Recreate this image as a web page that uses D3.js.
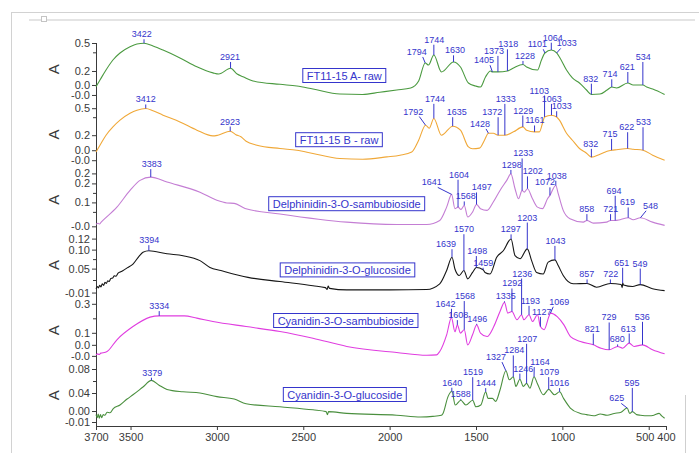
<!DOCTYPE html>
<html>
<head>
<meta charset="utf-8">
<script src="https://cdn.jsdelivr.net/npm/d3@7/dist/d3.min.js"></script>
<style>
  html, body { margin: 0; padding: 0; background: #fff; }
  svg { display: block; font-family: "Liberation Sans", Arial, sans-serif; }
</style>
</head>
<body>
<svg id="chart" width="699" height="453"></svg>
<script>
// ---------------- data ----------------
const seriesNames = [
  "FT11-15 A- raw",
  "FT11-15 B - raw",
  "Delphinidin-3-O-sambubioside",
  "Delphinidin-3-O-glucoside",
  "Cyanidin-3-O-sambubioside",
  "Cyanidin-3-O-glucoside"
];

// wavenumber (cm-1), absorbance
const spectrumA = [[3700,0.032],[3677,0.103],[3642,0.211],[3602,0.318],[3561,0.393],[3503,0.46],[3463,0.489],[3422,0.497],[3370,0.468],[3312,0.425],[3214,0.34],[3116,0.246],[3023,0.18],[2989,0.167],[2921,0.229],[2883,0.167],[2849,0.139],[2791,0.093],[2635,0.057],[2537,0.039],[2444,0.007],[2288,-0.047],[2156,-0.052],[2057,-0.028],[1959,-0.004],[1878,0.018],[1832,0.093],[1794,0.286],[1775,0.264],[1744,0.371],[1700,0.189],[1630,0.296],[1590,0.243],[1544,0.071],[1503,0.039],[1474,0.028],[1445,0.136],[1416,0.2],[1405,0.19],[1373,0.19],[1318,0.2],[1283,0.232],[1228,0.27],[1207,0.243],[1144,0.21],[1121,0.318],[1101,0.393],[1064,0.425],[1033,0.393],[1017,0.35],[976,0.21],[942,0.125],[901,0.071],[860,-0.004],[832,-0.052],[782,-0.047],[741,-0.004],[714,0.028],[686,0.018],[621,0.071],[590,0.05],[534,0.05],[512,0.028],[477,0.007],[408,-0.052]];

const spectrumB = [[3700,0.014],[3677,0.089],[3642,0.2],[3602,0.292],[3561,0.367],[3503,0.444],[3463,0.478],[3412,0.497],[3370,0.472],[3312,0.422],[3214,0.348],[3116,0.256],[3023,0.192],[2994,0.2],[2923,0.244],[2890,0.206],[2861,0.183],[2831,0.133],[2768,0.089],[2635,0.052],[2537,0.033],[2444,-0.003],[2288,-0.059],[2156,-0.067],[2016,-0.041],[1940,-0.022],[1872,0.014],[1832,0.144],[1792,0.311],[1771,0.278],[1744,0.386],[1700,0.2],[1635,0.3],[1590,0.256],[1544,0.07],[1520,0.05],[1480,0.056],[1451,0.144],[1428,0.222],[1400,0.222],[1372,0.2],[1333,0.2],[1283,0.237],[1229,0.292],[1207,0.256],[1161,0.237],[1133,0.237],[1115,0.333],[1103,0.403],[1063,0.422],[1033,0.403],[1017,0.367],[976,0.222],[942,0.144],[901,0.052],[860,0.0],[832,-0.044],[782,-0.011],[741,0.022],[715,0.033],[686,0.039],[622,0.052],[590,0.044],[533,0.033],[477,-0.022],[408,-0.078]];

const spectrumDS = [[3700,-0.016],[3688,-0.01],[3680,-0.014],[3670,-0.004],[3660,0.005],[3579,0.075],[3503,0.163],[3445,0.216],[3383,0.233],[3289,0.207],[3098,0.154],[3000,0.111],[2942,0.097],[2900,0.095],[2837,0.068],[2635,0.039],[2248,-0.004],[1959,-0.016],[1785,-0.016],[1710,0.005],[1670,0.075],[1641,0.142],[1622,0.067],[1604,0.075],[1587,0.063],[1568,0.084],[1548,0.023],[1520,0.049],[1497,0.089],[1474,0.067],[1436,0.058],[1400,0.102],[1361,0.163],[1322,0.216],[1298,0.25],[1274,0.172],[1254,0.119],[1233,0.163],[1221,0.154],[1202,0.172],[1173,0.119],[1144,0.075],[1115,0.067],[1086,0.119],[1072,0.137],[1038,0.189],[1024,0.146],[995,0.058],[956,0.014],[879,-0.004],[858,0.005],[821,-0.009],[744,-0.004],[721,0.005],[694,0.005],[666,0.009],[619,0.019],[590,0.009],[548,0.019],[478,-0.004],[408,-0.021]];

const spectrumDG = [[3700,-0.003],[3692,0.003],[3686,-0.001],[3679,0.006],[3671,0.002],[3664,0.01],[3656,0.006],[3648,0.014],[3640,0.011],[3632,0.018],[3624,0.016],[3614,0.024],[3604,0.025],[3594,0.031],[3584,0.03],[3572,0.038],[3560,0.041],[3543,0.045],[3520,0.052],[3486,0.062],[3450,0.083],[3428,0.093],[3394,0.097],[3289,0.089],[3196,0.084],[3098,0.071],[3040,0.053],[2977,0.045],[2820,0.027],[2635,0.016],[2444,0.005],[2372,0.0],[2362,-0.005],[2356,0.004],[2348,-0.002],[2248,-0.006],[2000,-0.006],[1786,-0.005],[1710,0.01],[1670,0.045],[1639,0.08],[1622,0.049],[1597,0.032],[1570,0.045],[1548,0.023],[1520,0.04],[1498,0.053],[1459,0.047],[1448,0.04],[1419,0.036],[1380,0.08],[1342,0.097],[1297,0.128],[1274,0.084],[1245,0.076],[1203,0.102],[1178,0.071],[1149,0.04],[1111,0.036],[1082,0.067],[1043,0.073],[1024,0.058],[995,0.032],[937,0.01],[857,0.011],[802,0.001],[722,0.011],[660,0.008],[653,0.0],[651,0.012],[646,0.007],[594,0.003],[549,0.008],[478,-0.003],[408,-0.008]];

const spectrumCS = [[3700,-0.052],[3690,-0.045],[3682,-0.05],[3672,-0.04],[3660,-0.038],[3636,-0.029],[3579,0.052],[3486,0.143],[3387,0.208],[3334,0.217],[3189,0.217],[3116,0.201],[3023,0.178],[2831,0.143],[2635,0.109],[2444,0.063],[2248,0.006],[1959,-0.036],[1785,-0.055],[1728,-0.052],[1710,-0.029],[1670,0.086],[1642,0.205],[1622,0.107],[1608,0.155],[1590,0.098],[1568,0.121],[1548,0.017],[1520,0.086],[1496,0.155],[1474,0.098],[1436,0.074],[1397,0.143],[1361,0.247],[1335,0.31],[1316,0.236],[1292,0.247],[1263,0.19],[1236,0.224],[1223,0.19],[1193,0.224],[1173,0.178],[1144,0.224],[1127,0.143],[1106,0.121],[1078,0.212],[1069,0.236],[1030,0.212],[991,0.155],[953,0.074],[895,0.04],[821,0.017],[776,-0.006],[729,-0.017],[680,0.006],[651,-0.006],[613,0.029],[584,0.006],[536,0.017],[478,-0.017],[408,-0.045]];

const spectrumCG = [[3700,0.004],[3693,-0.001],[3687,0.005],[3681,-0.002],[3674,0.004],[3667,-0.001],[3658,0.004],[3648,0.003],[3636,0.008],[3619,0.007],[3600,0.014],[3561,0.02],[3520,0.03],[3486,0.037],[3428,0.05],[3379,0.061],[3335,0.053],[3289,0.046],[3196,0.042],[3098,0.04],[3000,0.034],[2900,0.03],[2831,0.022],[2635,0.017],[2444,0.012],[2368,0.009],[2360,0.004],[2354,0.009],[2248,0.006],[1959,0.003],[1820,0.0],[1750,0.001],[1700,0.003],[1691,0.006],[1662,0.034],[1640,0.043],[1620,0.02],[1588,0.028],[1559,0.02],[1519,0.028],[1501,0.017],[1472,0.02],[1444,0.042],[1430,0.031],[1405,0.031],[1386,0.026],[1361,0.045],[1327,0.077],[1307,0.062],[1284,0.067],[1269,0.051],[1246,0.063],[1226,0.051],[1207,0.056],[1188,0.048],[1164,0.067],[1145,0.056],[1110,0.037],[1079,0.046],[1046,0.037],[1016,0.042],[993,0.031],[954,0.015],[896,0.006],[860,0.004],[819,0.002],[780,0.005],[741,0.003],[700,0.006],[660,0.008],[625,0.015],[610,0.006],[595,0.009],[570,0.004],[548,0.003],[500,0.002],[470,0.003],[440,0.006],[425,0.002],[408,-0.002]];

// labelled peak positions (cm-1)
const peaksA  = [3422, 2921, 1794, 1744, 1630, 1405, 1373, 1318, 1228, 1101, 1064, 1033, 832, 714, 621, 534];
const peaksB  = [3412, 2923, 1792, 1744, 1635, 1428, 1372, 1333, 1229, 1161, 1103, 1063, 1033, 832, 715, 622, 533];
const peaksDS = [3383, 1641, 1604, 1568, 1497, 1298, 1233, 1202, 1072, 1038, 858, 721, 694, 619, 548];
const peaksDG = [3394, 1639, 1570, 1498, 1459, 1297, 1203, 1043, 857, 722, 651, 549];
const peaksCS = [3334, 1642, 1608, 1568, 1496, 1335, 1292, 1236, 1193, 1127, 1069, 821, 729, 680, 613, 536];
const peaksCG = [3379, 1640, 1588, 1519, 1444, 1327, 1284, 1246, 1207, 1164, 1079, 1016, 625, 595];

// axis ticks
const xTickValues = [3700, 3500, 3000, 2500, 2000, 1500, 1000, 500, 400];
const yTicksA  = [0.5, 0.2, 0.05, -0.057];   const yTickLabelsA  = ["0.5", "0.2", "0.0", "-0.0"];  const yMinorA  = [0.4];
const yTicksB  = [0.5, 0.2, 0.033, -0.078];  const yTickLabelsB  = ["0.5", "0.2", "0.0", "-0.0"];  const yMinorB  = [0.4];
const yTicksDS = [0.2526, 0.2, 0.1, -0.026]; const yTickLabelsDS = ["0.2", "0.2", "0.1", "-0.0"];  const yMinorDS = [0.15, 0.05];
const yTicksDG = [0.129, 0.1, 0.05, -0.013]; const yTickLabelsDG = ["0.12", "0.10", "0.05", "-0.01"]; const yMinorDG = [0.075, 0.02];
const yTicksCS = [0.3, 0.1, 0.017, -0.059];  const yTickLabelsCS = ["0.3", "0.1", "0.0", "-0.0"];  const yMinorCS = [0.2];
const yTicksCG = [0.08, 0.04, 0.01, -0.0083]; const yTickLabelsCG = ["0.08", "0.04", "0.00", "-0.01"]; const yMinorCG = [0.06];

// ---------------- layout & style ----------------
const lineColors = ["#4b9a40", "#f0a838", "#c47ed4", "#161616", "#e03ee0", "#4a8f3e"];
const yDomains = [[-0.065, 0.5], [-0.0856, 0.5], [-0.0248, 0.2526], [-0.0097, 0.129], [-0.0634, 0.3], [-0.0078, 0.08]];
// label offsets (px) of each peak label relative to its point on the trace
const labelOffsetsA  = [[-2.3,-6],[-0.6,-8.3],[-8.5,-8],[0.3,-12.3],[1.5,-8.7],[-8.4,-8.7],[-3.9,-18],[0.9,-23.7],[2,-5.5],[-7.5,-5.7],[1.4,-9.3],[10,-6.5],[-0.7,-12.8],[-1.8,-9.7],[-0.5,-13],[0.5,-25]];
const labelOffsetsB  = [[0,-6],[-0.2,-6.7],[-12.3,-10.7],[1.1,-16.6],[4.1,-11],[-8.4,-6.3],[-5.8,-20],[0.8,-33.3],[0.5,-13.4],[0.4,-8.4],[-5.3,-23.4],[0.2,-13.3],[5,-7.7],[-0.7,-10.3],[-1.6,-13.3],[-1,-18.3],[0.4,-25]];
const labelOffsetsDS = [[0.9,-10],[-19.9,-9],[1,-29.4],[1.4,-6],[5.2,-14],[0.8,-6],[1.2,-34],[5.2,-14.3],[-4.9,-10],[0.9,-6.7],[-0.2,-8.3],[0.2,-8.3],[-1.2,-26.7],[-0.6,-12.3],[10.2,-9]];
const labelOffsetsDG = [[0.4,-7.6],[-6,-10],[0.1,-38.3],[0.9,-13.4],[0.2,-4],[-0.4,-6.6],[0,-28.3],[0.6,-16],[-0.4,-6],[0.3,-6],[-1,-17.3],[-0.3,-18]];
const labelOffsetsCS = [[0.1,-6.7],[-6,-10.8],[1,-6.7],[0.7,-30.7],[0.6,-3],[1.2,-3],[0.4,-25],[0.7,-38.3],[1.3,-11],[1.3,-11.7],[8.8,-8.3],[-1,-13.3],[-0.2,-29.3],[-0.3,-4],[-0.9,-11.6],[-0.2,-25]];
const labelOffsetsCG = [[0.9,-4.7],[0.5,-5.5],[-0.1,-3.3],[0.3,-25],[0.3,-5.7],[-9.9,-10.7],[0.9,-23.4],[3.4,-7.6],[0.7,-41.6],[6,-11.7],[0.6,-14.3],[-0.3,-5.7],[-10.4,-6.6],[-0.2,-25.7]];
// legend box centre: x in px, y relative to panel top
const legendSpots = [[344.3,32.5],[339,31.5],[346.7,30.3],[347.5,31.3],[345.8,16.7],[344.8,25.5]];

const panels = [
  { data: spectrumA,  peaks: peaksA,  offs: labelOffsetsA,  ticks: yTicksA,  labels: yTickLabelsA,  minor: yMinorA },
  { data: spectrumB,  peaks: peaksB,  offs: labelOffsetsB,  ticks: yTicksB,  labels: yTickLabelsB,  minor: yMinorB },
  { data: spectrumDS, peaks: peaksDS, offs: labelOffsetsDS, ticks: yTicksDS, labels: yTickLabelsDS, minor: yMinorDS },
  { data: spectrumDG, peaks: peaksDG, offs: labelOffsetsDG, ticks: yTicksDG, labels: yTickLabelsDG, minor: yMinorDG },
  { data: spectrumCS, peaks: peaksCS, offs: labelOffsetsCS, ticks: yTicksCS, labels: yTickLabelsCS, minor: yMinorCS },
  { data: spectrumCG, peaks: peaksCG, offs: labelOffsetsCG, ticks: yTicksCG, labels: yTickLabelsCG, minor: yMinorCG }
];

const FONT = '"Liberation Sans", Arial, sans-serif';
const AXIS_INK = "#3a3a3a";
const ANNOT = "#3535cc";
const panelTop = i => 43 + 65.2 * i;
const panelH = 52.7;
const axisY = 426;

const svg = d3.select("#chart");
const x = d3.scaleLinear().domain([3700, 400]).range([96, 666]);

// window frame
svg.append("rect").attr("x", 11.5).attr("y", 12.5).attr("width", 720).attr("height", 480)
  .attr("fill", "none").attr("stroke", "#d2d2d2");
svg.append("line").attr("x1", 29).attr("x2", 695).attr("y1", 20).attr("y2", 20)
  .attr("stroke", "#e4e4e4").attr("stroke-width", 2);
svg.append("rect").attr("x", 41.5).attr("y", 16.5).attr("width", 5).attr("height", 5)
  .attr("fill", "#fff").attr("stroke", "#c4c4c4");
svg.append("line").attr("x1", 685.5).attr("x2", 685.5).attr("y1", 395).attr("y2", 453)
  .attr("stroke", "#cfcfcf");

// linear lookup of absorbance on a trace
function valueAt(data, wn) {
  for (let k = 0; k < data.length - 1; k++) {
    const [w0, v0] = data[k], [w1, v1] = data[k + 1];
    if (wn <= w0 && wn >= w1) return v0 + (v1 - v0) * (w0 - wn) / (w0 - w1);
  }
  return data[data.length - 1][1];
}

// shared vertical axis line
svg.append("line").attr("x1", x(3700)).attr("x2", x(3700))
  .attr("y1", panelTop(0)).attr("y2", axisY)
  .attr("stroke", AXIS_INK).attr("stroke-width", 1).attr("shape-rendering", "crispEdges");

panels.forEach((p, i) => {
  const top = panelTop(i);
  const y = d3.scaleLinear().domain(yDomains[i]).range([top + panelH, top]);

  // minor ticks
  svg.append("g").attr("transform", `translate(${x(3700)},0)`)
    .call(d3.axisLeft(y).tickValues(p.minor).tickSize(3).tickFormat(""))
    .call(g => g.select(".domain").remove())
    .attr("color", AXIS_INK);

  // labelled ticks
  const lab = new Map(p.ticks.map((v, k) => [v, p.labels[k]]));
  svg.append("g").attr("transform", `translate(${x(3700)},0)`)
    .call(d3.axisLeft(y).tickValues(p.ticks).tickSize(4).tickPadding(2).tickFormat(v => lab.get(v)))
    .call(g => g.select(".domain").remove())
    .attr("color", AXIS_INK)
    .attr("font-family", FONT).attr("font-size", 11);

  // axis title
  svg.append("text")
    .attr("transform", `translate(59,${top + panelH / 2}) rotate(-90)`)
    .attr("text-anchor", "middle")
    .attr("font-family", FONT).attr("font-size", 15).attr("fill", AXIS_INK)
    .text("A");

  // spectrum trace
  const line = d3.line().x(d => x(d[0])).y(d => y(d[1])).curve(d3.curveMonotoneX);
  svg.append("path").datum(p.data)
    .attr("d", line).attr("fill", "none")
    .attr("stroke", lineColors[i]).attr("stroke-width", 1.1)
    .attr("stroke-linejoin", "round");

  // boxed series name
  const [lx, ldy] = legendSpots[i];
  const lg = svg.append("g");
  const lt = lg.append("text")
    .attr("x", lx).attr("y", top + ldy + 4)
    .attr("text-anchor", "middle")
    .attr("font-family", FONT).attr("font-size", 11).attr("fill", ANNOT)
    .text(seriesNames[i]);
  const tw = lt.node().getComputedTextLength();
  lg.insert("rect", "text")
    .attr("x", lx - tw / 2 - 4).attr("y", top + ldy - 7)
    .attr("width", tw + 8).attr("height", 14)
    .attr("fill", "#fff").attr("stroke", ANNOT).attr("stroke-width", 1);

  // peak labels with leaders
  p.peaks.forEach((wn, k) => {
    const px = x(wn), py = y(valueAt(p.data, wn));
    const [dx, dy] = p.offs[k];
    const tx = px + dx, ty = py + dy;
    const t = svg.append("text")
      .attr("x", tx).attr("y", ty)
      .attr("text-anchor", "middle")
      .attr("font-family", FONT).attr("font-size", 9).attr("fill", ANNOT)
      .text(String(wn));
    const w = t.node().getComputedTextLength();
    const sx = tx + Math.max(-w * 0.3, Math.min(w * 0.3, px - tx));
    const sy = ty + 2;
    if (py - sy > 0.8) {
      svg.append("line")
        .attr("x1", sx).attr("y1", sy).attr("x2", px).attr("y2", py)
        .attr("stroke", ANNOT).attr("stroke-width", 1);
    }
  });
});

// wavenumber axis
const xg = svg.append("g").attr("transform", `translate(0,${axisY})`)
  .call(d3.axisBottom(x).tickValues(xTickValues).tickSize(4).tickSizeOuter(0).tickFormat(d3.format("d")))
  .attr("color", AXIS_INK)
  .attr("font-family", FONT).attr("font-size", 11);
xg.selectAll(".tick text").filter(d => d === 500).attr("dx", -4);
xg.select(".domain").attr("shape-rendering", "crispEdges");
</script>
</body>
</html>
